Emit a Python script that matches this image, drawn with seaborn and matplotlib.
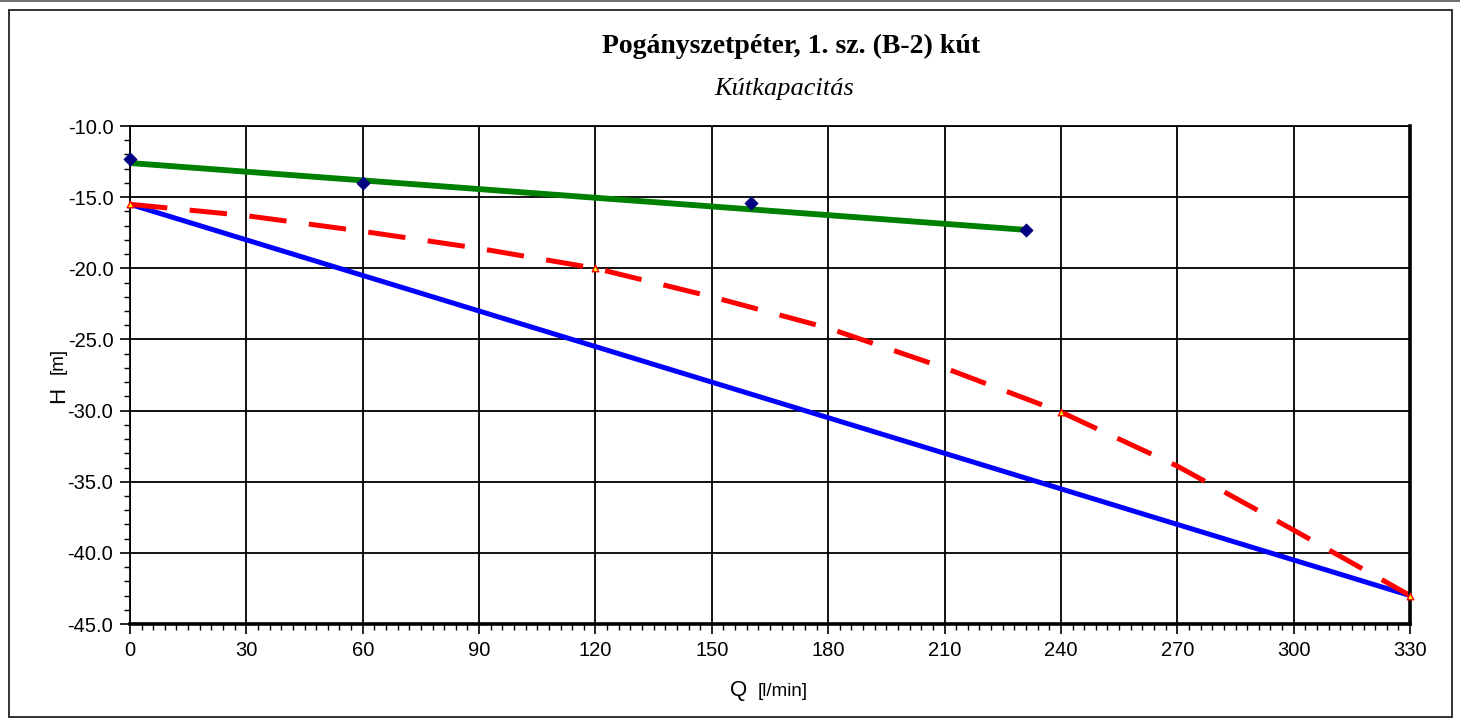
import matplotlib
matplotlib.use('Agg')
import matplotlib.pyplot as plt
import matplotlib.patches as patches
from matplotlib.ticker import MultipleLocator, FormatStrFormatter
import seaborn as sns
import pandas as pd

# mért pontok (nyugalmi / üzemi vízszint)
meres_q = [0, 60, 160, 231]
meres_h = [-12.3, -14.0, -15.4, -17.3]

# illesztett egyenes a mért pontokra
illesztes_q = [0, 231]
illesztes_h = [-12.6, -17.3]

# lineáris kútjelleggörbe
linearis_q = [0, 330]
linearis_h = [-15.5, -43.0]

# szivattyú jelleggörbe (szaggatott)
szivattyu_q = [0, 30, 60, 90, 120, 150, 180, 210, 240, 270, 300, 330]
szivattyu_h = [-15.5, -16.3, -17.4, -18.6, -20.0, -22.0, -24.2, -27.0, -30.1, -33.9, -38.4, -43.0]
szivattyu_pont_q = [0, 120, 240, 330]
szivattyu_pont_h = [-15.5, -20.0, -30.1, -43.0]

sns.set_style('white')
plt.rcParams['font.family'] = ['Liberation Sans', 'DejaVu Sans']
plt.rcParams['text.color'] = 'black'

fig = plt.figure(figsize=(14.6, 7.21), dpi=100)
ax = fig.add_axes([0.089, 0.1345, 0.8768, 0.6907])

ax.grid(True, which='major', color='black', linewidth=1.3)
ax.set_axisbelow(True)

df_lin = pd.DataFrame({'Q': linearis_q, 'H': linearis_h})
sns.lineplot(data=df_lin, x='Q', y='H', ax=ax, color='#0000FF', linewidth=3.6)

df_sz = pd.DataFrame({'Q': szivattyu_q, 'H': szivattyu_h})
sns.lineplot(data=df_sz, x='Q', y='H', ax=ax, color='#FF0000', linewidth=3.6)
ax.lines[-1].set_dashes([7.5, 4.5])

df_ill = pd.DataFrame({'Q': illesztes_q, 'H': illesztes_h})
sns.lineplot(data=df_ill, x='Q', y='H', ax=ax, color='#008000', linewidth=4.2)

df_m = pd.DataFrame({'Q': meres_q, 'H': meres_h})
sns.scatterplot(data=df_m, x='Q', y='H', ax=ax, marker='D', s=45,
                color='#000080', edgecolor='#000080', zorder=5, clip_on=False)

df_szp = pd.DataFrame({'Q': szivattyu_pont_q, 'H': szivattyu_pont_h})
sns.scatterplot(data=df_szp, x='Q', y='H', ax=ax, marker='^', s=22,
                color='#FFFF00', edgecolor='#FF0000', linewidth=1.0,
                zorder=6, clip_on=False)

ax.set_xlim(0, 330)
ax.set_ylim(-45, -10)
ax.xaxis.set_major_locator(MultipleLocator(30))
ax.xaxis.set_minor_locator(MultipleLocator(3))
ax.yaxis.set_major_locator(MultipleLocator(5))
ax.yaxis.set_minor_locator(MultipleLocator(1))
ax.yaxis.set_major_formatter(FormatStrFormatter('%.1f'))

ax.tick_params(axis='both', which='major', direction='out', length=7, width=1.2,
               colors='black', labelsize=14.5, pad=5)
ax.tick_params(axis='both', which='minor', direction='out', length=4, width=1.0,
               colors='black')
ax.tick_params(left=True, bottom=True, which='both')

for side in ['left', 'top']:
    ax.spines[side].set_linewidth(1.3)
    ax.spines[side].set_color('black')
for side in ['bottom', 'right']:
    ax.spines[side].set_linewidth(2.6)
    ax.spines[side].set_color('black')

ax.set_xlabel('')
ax.set_ylabel('')

# tengelyfeliratok
fig.text(0.512, 0.035, 'Q', fontsize=16, ha='right', va='baseline')
fig.text(0.519, 0.035, '[l/min]', fontsize=13.5, ha='left', va='baseline')
fig.text(0.040, 0.452, 'H', fontsize=16, rotation=90, ha='center', va='center')
fig.text(0.040, 0.500, '[m]', fontsize=13.5, rotation=90, ha='center', va='center')

# cím
fig.text(0.542, 0.935, 'Pogányszetpéter, 1. sz. (B-2) kút', fontsize=20,
         fontweight='bold', family=['Liberation Serif', 'DejaVu Serif'],
         ha='center', va='center')
fig.text(0.537, 0.877, 'Kútkapacitás', fontsize=19, style='italic',
         family=['Liberation Serif', 'DejaVu Serif'], ha='center', va='center')

# külső keret
fig.patches.append(patches.Rectangle((9 / 1460, 4 / 721), 1443 / 1460, 707 / 721,
                                     transform=fig.transFigure, fill=False,
                                     edgecolor='#333333', linewidth=1.4))
fig.lines.append(plt.Line2D([0, 1], [0.998, 0.998], transform=fig.transFigure,
                            color='#555555', linewidth=1.2))

fig.savefig('out.png', dpi=100)
